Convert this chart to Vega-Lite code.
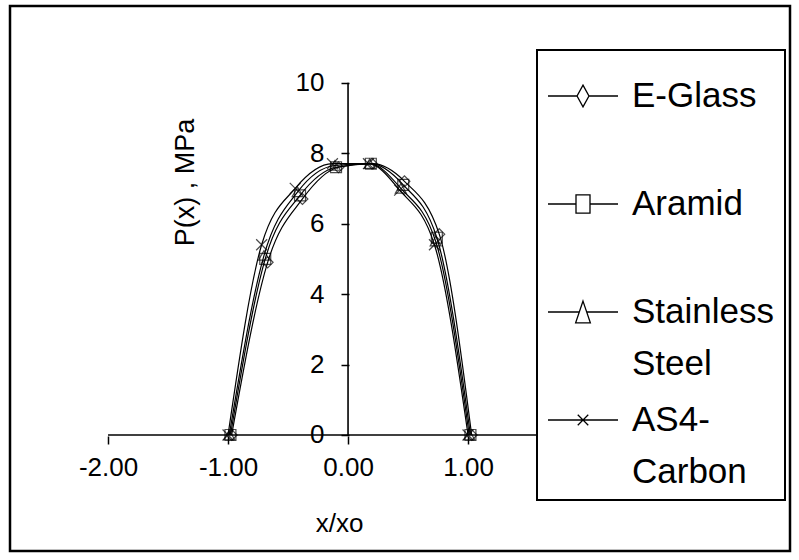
{
  "$schema": "https://vega.github.io/schema/vega-lite/v6.json",
  "width": 780,
  "height": 545,
  "autosize": "none",
  "padding": {"left": 10, "top": 6, "right": 9, "bottom": 9},
  "background": "white",
  "config": {
    "view": {"stroke": "black", "strokeWidth": 2.5},
    "font": "Liberation Sans",
    "legend": {"strokeWidth": 2},
    "style": {"guide-label": {"lineHeight": 52}}
  },
  "datasets": {
    "curves": [
      {"series": "E-Glass", "px": -0.97, "py": 0},
      {"series": "E-Glass", "px": -0.67, "py": 4.9},
      {"series": "E-Glass", "px": -0.38, "py": 6.7},
      {"series": "E-Glass", "px": -0.08, "py": 7.6},
      {"series": "E-Glass", "px": 0.2, "py": 7.7},
      {"series": "E-Glass", "px": 0.47, "py": 7.2},
      {"series": "E-Glass", "px": 0.76, "py": 5.7},
      {"series": "E-Glass", "px": 1.03, "py": 0},
      {"series": "Aramid", "px": -0.98, "py": 0},
      {"series": "Aramid", "px": -0.69, "py": 5.0},
      {"series": "Aramid", "px": -0.4, "py": 6.8},
      {"series": "Aramid", "px": -0.1, "py": 7.6},
      {"series": "Aramid", "px": 0.19, "py": 7.7},
      {"series": "Aramid", "px": 0.46, "py": 7.1},
      {"series": "Aramid", "px": 0.74, "py": 5.6},
      {"series": "Aramid", "px": 1.02, "py": 0},
      {"series": "Stainless Steel", "px": -0.99, "py": 0},
      {"series": "Stainless Steel", "px": -0.7, "py": 5.1},
      {"series": "Stainless Steel", "px": -0.42, "py": 6.9},
      {"series": "Stainless Steel", "px": -0.11, "py": 7.65},
      {"series": "Stainless Steel", "px": 0.18, "py": 7.7},
      {"series": "Stainless Steel", "px": 0.44, "py": 7.0},
      {"series": "Stainless Steel", "px": 0.73, "py": 5.5},
      {"series": "Stainless Steel", "px": 1.01, "py": 0},
      {"series": "AS4-Carbon", "px": -1.0, "py": 0},
      {"series": "AS4-Carbon", "px": -0.72, "py": 5.4},
      {"series": "AS4-Carbon", "px": -0.44, "py": 7.0},
      {"series": "AS4-Carbon", "px": -0.13, "py": 7.7},
      {"series": "AS4-Carbon", "px": 0.17, "py": 7.7},
      {"series": "AS4-Carbon", "px": 0.43, "py": 6.95},
      {"series": "AS4-Carbon", "px": 0.72, "py": 5.4},
      {"series": "AS4-Carbon", "px": 1.0, "py": 0}
    ],
    "axislines": [
      {"xa": -2, "xb": 3, "ya": 0, "yb": 0},
      {"xa": 0, "xb": 0, "ya": 0, "yb": 10}
    ]
  },
  "resolve": {"scale": {"shape": "independent"}, "legend": {"shape": "independent"}},
  "layer": [
    {
      "data": {"name": "axislines"},
      "mark": {"type": "rule", "stroke": "black", "strokeWidth": 1.6},
      "encoding": {
        "x": {"field": "xa", "type": "quantitative", "scale": {"domain": [-2.817, 3.683], "nice": false, "zero": false}, "axis": {
          "values": [-2, -1, 0, 1, 2], "domain": false, "grid": false,
          "labelExpr": "(datum.value < 0 ? '-' : '') + format(abs(datum.value), '.2f')",
          "offset": -115, "tickSize": 8, "tickColor": "black", "tickWidth": 1.5,
          "labelFontSize": 26, "labelColor": "black", "labelPadding": 10, "labelFlush": false,
          "title": "x/xo", "titleFontSize": 26, "titleFontWeight": "normal", "titleColor": "black",
          "titleX": 329, "titleY": 87, "titleBaseline": "middle", "titleAlign": "center"
        }},
        "x2": {"field": "xb"},
        "y": {"field": "ya", "type": "quantitative", "scale": {"domain": [-3.293, 12.177], "nice": false, "zero": false}, "axis": {
          "values": [0, 2, 4, 6, 8, 10], "format": "d", "domain": false, "grid": false,
          "offset": -339, "tickSize": 8, "tickColor": "black", "tickWidth": 1.5,
          "labelFontSize": 26, "labelColor": "black", "labelPadding": 17, "labelFlush": false,
          "title": "P(x) , MPa", "titleFontSize": 27, "titleFontWeight": "normal", "titleColor": "black",
          "titleX": -164, "titleY": 176, "titleBaseline": "middle", "titleAlign": "center", "titleAngle": -90
        }},
        "y2": {"field": "yb"}
      }
    },
    {
      "data": {"name": "curves"},
      "mark": {"type": "line", "interpolate": "monotone", "strokeWidth": 1.2, "stroke": "black"},
      "encoding": {
        "x": {"field": "px", "type": "quantitative"},
        "y": {"field": "py", "type": "quantitative"},
        "detail": {"field": "series", "type": "nominal"}
      }
    },
    {
      "data": {"name": "curves"},
      "mark": {"type": "point", "filled": false, "size": 120, "strokeWidth": 1.2, "stroke": "black"},
      "encoding": {
        "x": {"field": "px", "type": "quantitative"},
        "y": {"field": "py", "type": "quantitative"},
        "shape": {
          "field": "series", "type": "nominal",
          "scale": {
            "domain": ["E-Glass", "Aramid", "Stainless Steel", "AS4-Carbon"],
            "range": ["diamond", "square", "triangle-up", "M-1,-1L1,1M-1,1L1,-1"]
          },
          "legend": null
        }
      }
    },
    {
      "data": {"name": "curves"},
      "transform": [{"filter": "datum.py < -100"}],
      "mark": {"type": "point", "filled": false, "strokeWidth": 1.3, "stroke": "black"},
      "encoding": {
        "x": {"field": "px", "type": "quantitative"},
        "y": {"field": "py", "type": "quantitative"},
        "shape": {
          "field": "series", "type": "nominal",
          "scale": {
            "domain": ["E-Glass", "Aramid", "Stainless Steel", "AS4-Carbon"],
            "range": [
              "M-1,0H-0.17M0.17,0H1M0,-0.31L0.17,0L0,0.31L-0.17,0Z",
              "M-1,0H-0.2M0.2,0H1M-0.2,-0.26H0.2V0.26H-0.2Z",
              "M-1,0H-0.1M0.1,0H1M0,-0.31L0.21,0.31H-0.21Z",
              "M-1,0H1M-0.15,-0.15L0.15,0.15M-0.15,0.15L0.15,-0.15"
            ]
          },
          "legend": {
            "orient": "none", "legendX": 527, "legendY": 44,
            "title": null, "padding": 10, "fillColor": "white", "strokeColor": "black",
            "symbolSize": 4900, "symbolStrokeWidth": 1.3, "symbolStrokeColor": "black", "symbolFillColor": "transparent",
            "symbolOpacity": 1,
            "labelFontSize": 35, "labelColor": "black", "labelOffset": 13, "labelLimit": 400,
            "rowPadding": 2, "gridAlign": "all",
            "labelExpr": "datum.label == 'Stainless Steel' ? ['Stainless', 'Steel'] : datum.label == 'AS4-Carbon' ? ['AS4-', 'Carbon'] : [datum.label, '']"
          }
        }
      }
    }
  ]
}
